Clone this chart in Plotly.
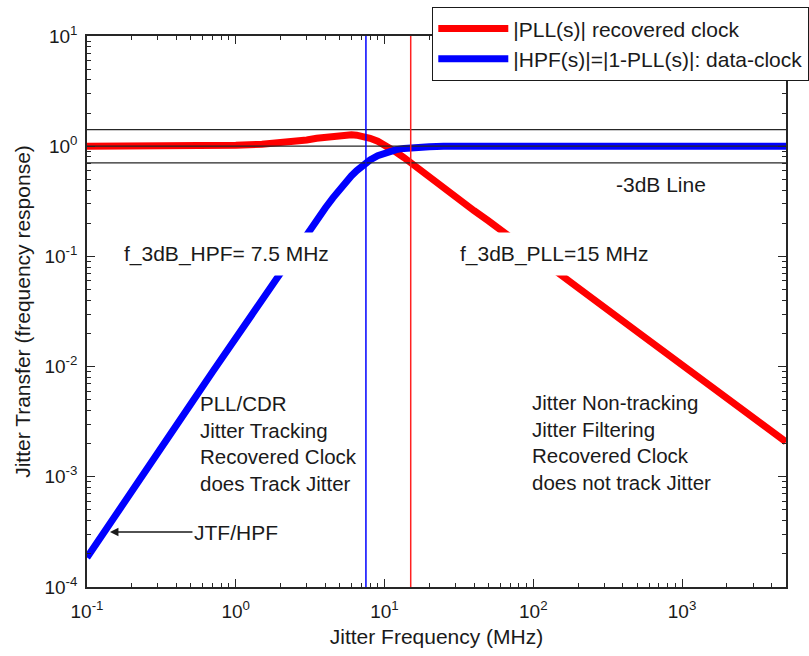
import plotly.graph_objects as go
import math

# ---------------- data ----------------
freq_pll = [0.1, 0.3, 0.5, 1, 1.5, 2, 2.5, 3, 3.5, 4, 4.5, 5, 5.5, 6, 6.5, 7, 7.5, 8, 9, 10,
            11, 12, 13.5, 15, 17.5, 20, 25, 30, 40, 50, 70, 100, 200, 500, 1000, 2000, 5000]
pll_mag = [1.0, 1.0, 1.0, 1.02, 1.04, 1.07, 1.10, 1.14, 1.18, 1.21, 1.24, 1.26, 1.27, 1.27, 1.26,
           1.24, 1.21, 1.18, 1.11, 1.03, 0.95, 0.88, 0.79, 0.707, 0.61, 0.53, 0.42, 0.35, 0.26,
           0.21, 0.148, 0.103, 0.052, 0.0207, 0.0104, 0.0052, 0.00207]

freq_hpf = [0.1, 0.15, 0.2, 0.3, 0.5, 0.7, 1, 1.5, 2, 2.5, 3, 3.5, 4, 4.5, 5, 5.5, 6, 6.5, 7,
            7.5, 8, 9, 10, 11, 12, 13.5, 15, 17.5, 20, 25, 30, 50, 100, 300, 1000, 5000]
hpf_mag = [1.85e-4, 4.1e-4, 7.3e-4, 1.65e-3, 4.6e-3, 9.0e-3, 1.83e-2, 4.1e-2, 7.2e-2, 0.11,
           0.158, 0.21, 0.275, 0.34, 0.41, 0.47, 0.54, 0.60, 0.655, 0.707, 0.75, 0.82, 0.87,
           0.905, 0.93, 0.955, 0.97, 0.985, 0.99, 0.997, 1.0, 1.0, 1.0, 1.0, 1.0, 1.0]

ref_levels = [1.414, 1.0, 0.707]      # +3dB, 0dB, -3dB lines
x_span = [0.1, 5000]
f3db_hpf = 7.5
f3db_pll = 15
y_span = [1e-4, 10]

x_tick_vals = [0.1, 1, 10, 100, 1000]
x_tick_text = ["10<sup>-1</sup>", "10<sup>0</sup>", "10<sup>1</sup>", "10<sup>2</sup>", "10<sup>3</sup>"]
y_tick_vals = [1e-4, 1e-3, 1e-2, 1e-1, 1, 10]
y_tick_text = ["10<sup>-4</sup>", "10<sup>-3</sup>", "10<sup>-2</sup>", "10<sup>-1</sup>",
               "10<sup>0</sup>", "10<sup>1</sup>"]

# ---------------- layout geometry ----------------
W, H = 809, 656
L, R, T, B = 87, 786, 36, 587
FONT = "Liberation Sans, Arial, sans-serif"
TXT = "#1a1a1a"


def px(xp):
    return (xp - L) / (R - L)


def py(yp):
    return (B - yp) / (B - T)


x_minor = [m * 10 ** d for d in range(-1, 4) for m in range(2, 10) if m * 10 ** d <= 5000]
y_minor = [m * 10 ** d for d in range(-4, 1) for m in range(2, 10)]

fig = go.Figure()

fig.add_trace(go.Scatter(x=freq_pll, y=pll_mag, mode="lines", name="|PLL(s)| recovered clock",
                         line=dict(color="#ff0000", width=7)))
fig.add_trace(go.Scatter(x=freq_hpf, y=hpf_mag, mode="lines",
                         name="|HPF(s)|=|1-PLL(s)|: data-clock",
                         line=dict(color="#0000ff", width=7)))

for lv in ref_levels:
    fig.add_trace(go.Scatter(x=x_span, y=[lv, lv], mode="lines", showlegend=False,
                             hoverinfo="skip", line=dict(color="#262626", width=1.3)))

fig.add_trace(go.Scatter(x=[f3db_hpf, f3db_hpf], y=y_span, mode="lines", showlegend=False,
                         hoverinfo="skip", line=dict(color="#0000ff", width=1.5)))
fig.add_trace(go.Scatter(x=[f3db_pll, f3db_pll], y=y_span, mode="lines", showlegend=False,
                         hoverinfo="skip", line=dict(color="#ff2020", width=1.5)))

axis_common = dict(
    type="log", showgrid=False, zeroline=False, showline=True, linecolor="#262626",
    linewidth=1.5, mirror="ticks", ticks="inside", ticklen=8, tickwidth=1.2,
    tickcolor="#262626", tickfont=dict(family=FONT, size=19, color=TXT),
)

fig.update_xaxes(
    **axis_common, range=[-1, math.log10(5000)], tickmode="array",
    tickvals=x_tick_vals, ticktext=x_tick_text, ticklabelstandoff=6,
    minor=dict(tickmode="array", tickvals=x_minor, ticks="inside", ticklen=4,
               tickwidth=1.2, tickcolor="#262626", showgrid=False),
    title=dict(text="Jitter Frequency (MHz)", font=dict(family=FONT, size=21, color=TXT),
               standoff=9),
)
fig.update_yaxes(
    **axis_common, range=[-4, 1], tickmode="array",
    tickvals=y_tick_vals, ticktext=y_tick_text, ticklabelstandoff=4,
    minor=dict(tickmode="array", tickvals=y_minor, ticks="inside", ticklen=4,
               tickwidth=1.2, tickcolor="#262626", showgrid=False),
    title=dict(text="Jitter Transfer (frequency response)",
               font=dict(family=FONT, size=21, color=TXT), standoff=8),
)

ann_font = dict(family=FONT, size=21, color=TXT)
blk_font = dict(family=FONT, size=20.5, color=TXT)
annotations = [
    dict(text="-3dB Line", x=px(614), y=py(185), xanchor="left", yanchor="middle",
         showarrow=False, font=ann_font),
    dict(text="f_3dB_HPF= 7.5 MHz", x=px(226.5), y=py(254), xanchor="center", yanchor="middle",
         showarrow=False, font=ann_font, bgcolor="white", borderpad=9),
    dict(text="f_3dB_PLL=15 MHz", x=px(554.5), y=py(254), xanchor="center", yanchor="middle",
         showarrow=False, font=ann_font, bgcolor="white", borderpad=9),
    dict(text="PLL/CDR<br>Jitter Tracking<br>Recovered Clock<br>does Track Jitter",
         x=px(198), y=py(443.5), xanchor="left", yanchor="middle", align="left",
         showarrow=False, font=blk_font),
    dict(text="Jitter Non-tracking<br>Jitter Filtering<br>Recovered Clock<br>does not track Jitter",
         x=px(530), y=py(442.5), xanchor="left", yanchor="middle", align="left",
         showarrow=False, font=blk_font),
]
for a in annotations:
    a.update(xref="paper", yref="paper")

# arrow pointing at the HPF curve
annotations.append(dict(
    text="JTF/HPF", xref="x", yref="y", x=-0.8455, y=-3.501, ax=126, ay=0,
    axref="pixel", ayref="pixel", showarrow=True, arrowhead=2, arrowsize=1.3,
    arrowwidth=1.3, arrowcolor="#1a1a1a", font=ann_font, standoff=0,
))

fig.update_layout(
    width=W, height=H, autosize=False,
    margin=dict(l=L, r=W - R, t=T, b=H - B, pad=0, autoexpand=False),
    paper_bgcolor="white", plot_bgcolor="white",
    font=dict(family=FONT, size=19, color=TXT),
    annotations=annotations,
    showlegend=True,
    legend=dict(x=px(432), y=py(7), xanchor="left", yanchor="top",
                bgcolor="white", bordercolor="#1a1a1a", borderwidth=1.3,
                font=dict(family=FONT, size=21, color=TXT), itemwidth=70,
                tracegroupgap=0),
)

fig.write_html("out.html", config={"displayModeBar": False},
               post_script="document.body.style.margin='0px';document.body.style.overflow='hidden';")
